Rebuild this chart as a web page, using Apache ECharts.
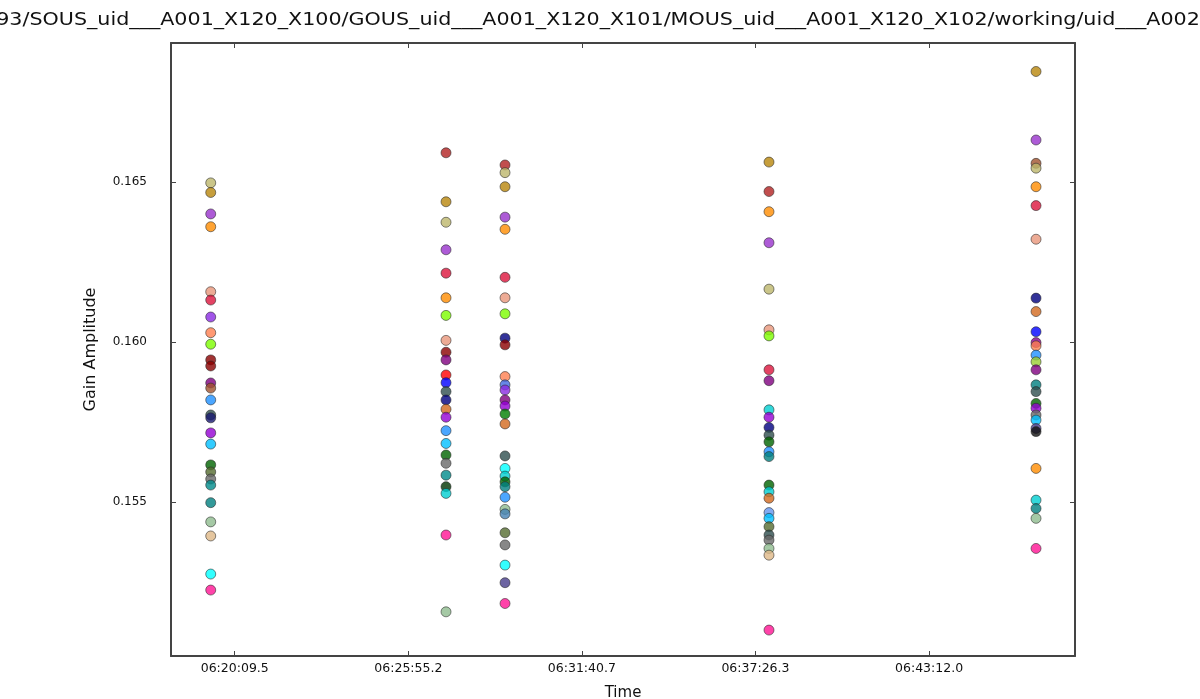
<!DOCTYPE html>
<html><head><meta charset="utf-8">
<script src="https://cdn.jsdelivr.net/npm/echarts@6/dist/echarts.min.js"></script>
<style>html,body{margin:0;padding:0;background:#fff}#c{width:1200px;height:699px}</style>
</head><body><div id="c"></div>
<script>
const titleText = '93/SOUS_uid___A001_X120_X100/GOUS_uid___A001_X120_X101/MOUS_uid___A001_X120_X102/working/uid___A002';
const xName = 'Time';
const yName = 'Gain Amplitude';
const xRange = ['06:18:02.6', '06:48:02.6'];
const xTickLabels = ['06:20:09.5', '06:25:55.2', '06:31:40.7', '06:37:26.3', '06:43:12.0'];
const yTicks = [0.155, 0.160, 0.165];
const yRange = [0.15019, 0.16934];
const columnTimes = ['06:19:21.7', '06:27:10.2', '06:29:07.7', '06:37:53.3', '06:46:45.0'];

const col1Values = [0.16497,0.16467,0.16400,0.16360,0.16157,0.16131,0.16078,0.16029,0.15993,0.15944,0.15925,0.15872,0.15856,0.15819,0.15772,0.15763,0.15716,0.15681,0.15616,0.15594,0.15572,0.15553,0.15498,0.15438,0.15394,0.15275,0.15225];
const col1Colors = ['#bdb76b','#b8860b','#9932cc','#ff8c00','#e9967a','#dc143c','#8a2be2','#ff7f50','#7cfc00','#8b0000','#8b0000','#800080','#a0522d','#1e90ff','#2f4f4f','#191970','#9400d3','#00bfff','#006400','#556b2f','#696969','#008b8b','#008080','#8fbc8f','#deb887','#00ffff','#ff1493'];

const col2Values = [0.16591,0.16438,0.16374,0.16288,0.16215,0.16138,0.16083,0.16005,0.15968,0.15944,0.15897,0.15873,0.15845,0.15819,0.15790,0.15765,0.15723,0.15683,0.15647,0.15621,0.15584,0.15548,0.15527,0.15397,0.15157];
const col2Colors = ['#b22222','#b8860b','#bdb76b','#9932cc','#dc143c','#ff8c00','#7cfc00','#e9967a','#8b0000','#800080','#ff0000','#0000ff','#2f4f4f','#000080','#d2691e','#9400d3','#1e90ff','#00bfff','#006400','#696969','#008b8b','#003300','#00ced1','#ff1493','#8fbc8f'];

const col3Values = [0.16553,0.16529,0.16485,0.16390,0.16352,0.16202,0.16138,0.16088,0.16012,0.15991,0.15892,0.15866,0.15850,0.15819,0.15800,0.15775,0.15744,0.15644,0.15605,0.15581,0.15563,0.15548,0.15515,0.15477,0.15463,0.15404,0.15366,0.15303,0.15248,0.15183];
const col3Colors = ['#b22222','#bdb76b','#b8860b','#9932cc','#ff8c00','#dc143c','#e9967a','#7cfc00','#000080','#8b0000','#ff7f50','#4169e1','#8a2be2','#800080','#9400d3','#008000','#d2691e','#2f4f4f','#00ffff','#00ced1','#006400','#008080','#1e90ff','#8fbc8f','#4682b4','#556b2f','#696969','#00ffff','#483d8b','#ff1493'];

const col4Values = [0.16562,0.16470,0.16407,0.16310,0.16165,0.16038,0.16019,0.15913,0.15879,0.15788,0.15765,0.15733,0.15709,0.15688,0.15657,0.15642,0.15553,0.15532,0.15512,0.15467,0.15449,0.15423,0.15397,0.15381,0.15355,0.15334,0.15100];
const col4Colors = ['#b8860b','#b22222','#ff8c00','#9932cc','#bdb76b','#e9967a','#7cfc00','#dc143c','#800080','#00ced1','#9400d3','#000080','#2f4f4f','#006400','#1e90ff','#008080','#006400','#00ced1','#d2691e','#6495ed','#00bfff','#556b2f','#2f4f4f','#696969','#8fbc8f','#deb887','#ff1493'];

const col5Values = [0.16845,0.16631,0.16558,0.16543,0.16485,0.16426,0.16321,0.16137,0.16095,0.16032,0.15998,0.15988,0.15959,0.15938,0.15913,0.15866,0.15845,0.15808,0.15793,0.15772,0.15756,0.15730,0.15720,0.15605,0.15506,0.15480,0.15449,0.15355];
const col5Colors = ['#b8860b','#9932cc','#a0522d','#bdb76b','#ff8c00','#dc143c','#e9967a','#000080','#d2691e','#0000ff','#8b008b','#ff7f50','#1e90ff','#9acd32','#800080','#008080','#2f4f4f','#006400','#9400d3','#696969','#00bfff','#483d8b','#111111','#ff8c00','#00ced1','#008080','#8fbc8f','#ff1493'];

function toSec(s){const p=s.split(':');return (+p[0])*3600+(+p[1])*60+parseFloat(p[2]);}
const xTickValues = xTickLabels.map(toSec);
const columns = [
  [col1Values, col1Colors], [col2Values, col2Colors], [col3Values, col3Colors],
  [col4Values, col4Colors], [col5Values, col5Colors]
];
const series = columns.map(function(c, k){
  const t = toSec(columnTimes[k]);
  return {
    type: 'scatter', xAxisIndex: 0, yAxisIndex: 0,
    symbol: 'circle', symbolSize: 10,
    itemStyle: {borderColor: 'rgba(40,40,40,0.7)', borderWidth: 1},
    data: c[0].map(function(v, i){return {value: [t, v], itemStyle: {color: c[1][i]}};})
  };
});
function xFmt(v){
  let best = 0, bd = Infinity;
  xTickValues.forEach(function(tv, i){const d = Math.abs(tv - v); if (d < bd){bd = d; best = i;}});
  return xTickLabels[best];
}
const axisLine = {show: true, lineStyle: {color: '#444', width: 2}};
const tickStyle = {show: true, inside: true, length: 5, lineStyle: {color: '#444', width: 1}};
const font = 'DejaVu Sans';
const xMin = toSec(xRange[0]), xMax = toSec(xRange[1]);
const chart = echarts.init(document.getElementById('c'));
chart.setOption({
  animation: false,
  backgroundColor: '#fff',
  grid: {left: 171, right: 125, top: 43, bottom: 43, containLabel: false, outerBoundsMode: 'none'},
  graphic: [{
    type: 'text', x: 598, y: 21, scaleX: 1.215,
    style: {text: titleText, font: '17px "DejaVu Sans"', fill: '#111', textAlign: 'center', textVerticalAlign: 'middle'}
  }],
  xAxis: [{
    type: 'value', min: xMin, max: xMax, position: 'bottom',
    name: xName, nameLocation: 'middle', nameGap: 30,
    nameTextStyle: {fontFamily: font, fontSize: 15, color: '#111'},
    axisLine: axisLine, splitLine: {show: false},
    axisTick: Object.assign({customValues: xTickValues}, tickStyle),
    axisLabel: {customValues: xTickValues, formatter: xFmt, fontFamily: font, fontSize: 12.5, color: '#111', margin: 6}
  }, {
    type: 'value', min: xMin, max: xMax, position: 'top',
    axisLine: axisLine, splitLine: {show: false},
    axisTick: Object.assign({customValues: xTickValues}, tickStyle),
    axisLabel: {show: false}
  }],
  yAxis: [{
    type: 'value', min: yRange[0], max: yRange[1], position: 'left',
    name: yName, nameLocation: 'middle', nameGap: 72, nameRotate: 90,
    nameTextStyle: {fontFamily: font, fontSize: 16, color: '#111'},
    axisLine: axisLine, splitLine: {show: false},
    axisTick: Object.assign({customValues: yTicks}, tickStyle),
    axisLabel: {customValues: yTicks, formatter: function(v){return v.toFixed(3);}, fontFamily: font, fontSize: 12, color: '#111', margin: 24}
  }, {
    type: 'value', min: yRange[0], max: yRange[1], position: 'right',
    axisLine: axisLine, splitLine: {show: false},
    axisTick: Object.assign({customValues: yTicks}, tickStyle),
    axisLabel: {show: false}
  }],
  series: series
});
</script></body></html>
